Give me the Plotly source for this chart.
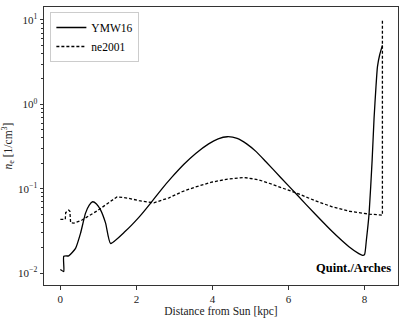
import plotly.graph_objects as go

# YMW16 (solid)
ymw_x = [0.0, 0.09, 0.09, 0.22, 0.4, 0.53, 0.66, 0.76, 0.85, 0.95, 1.06, 1.19, 1.32,
         1.7, 2.07, 2.37, 2.65, 2.94, 3.25, 3.56, 3.9, 4.15, 4.39, 4.65, 4.9, 5.15,
         5.4, 5.8, 6.23, 6.7, 7.15, 7.59, 7.85, 7.95, 8.0, 8.05, 8.12, 8.2, 8.25,
         8.3, 8.34, 8.4, 8.47]
ymw_y = [0.011, 0.0104, 0.0158, 0.016, 0.0196, 0.0295, 0.051, 0.064, 0.070, 0.066,
         0.0557, 0.039, 0.0224, 0.031, 0.046, 0.067, 0.097, 0.138, 0.195, 0.262,
         0.34, 0.39, 0.413, 0.395, 0.34, 0.275, 0.21, 0.135, 0.084, 0.05, 0.031,
         0.0205, 0.017, 0.0162, 0.0165, 0.025, 0.051, 0.218, 0.68, 1.6, 2.8, 3.9, 5.0]

# NE2001 (dashed)
ne_x = [0.0, 0.13, 0.14, 0.22, 0.25, 0.27, 0.355, 0.57, 0.97, 1.3, 1.49, 1.8,
        2.07, 2.46, 2.86, 3.2, 3.56, 4.0, 4.4, 4.83, 5.2, 5.49, 5.9, 6.23, 6.7,
        7.15, 7.6, 8.12, 8.47, 8.47]
ne_y = [0.0433, 0.0433, 0.052, 0.0557, 0.054, 0.0394, 0.039, 0.0425, 0.0547, 0.070,
        0.080, 0.077, 0.072, 0.068, 0.078, 0.092, 0.105, 0.120, 0.130, 0.136, 0.128,
        0.116, 0.100, 0.088, 0.072, 0.061, 0.054, 0.050, 0.0486, 10.0]

x_ticks = [0, 2, 4, 6, 8]
y_ticks = [0.01, 0.1, 1, 10]
y_ticktext = ["10<sup>\u22122</sup>", "10<sup>\u22121</sup>", "10<sup>0</sup>", "10<sup>1</sup>"]
y_minor = [m * d for d in [0.01, 0.1, 1] for m in range(2, 10)]

FONT = "Liberation Serif"

fig = go.Figure()
fig.add_trace(go.Scatter(x=ymw_x, y=ymw_y, mode="lines", name="YMW16",
                         line=dict(color="black", width=1.3, shape="spline",
                                   smoothing=0.5)))
fig.add_trace(go.Scatter(x=ne_x, y=ne_y, mode="lines", name="ne2001",
                         line=dict(color="black", width=1.3, dash="3px,2px")))

fig.add_annotation(text="<b>Quint./Arches</b>", xref="paper", yref="paper",
                   x=0.985, y=0.03, xanchor="right", yanchor="bottom",
                   showarrow=False, font=dict(family=FONT, size=12.5, color="black"))

fig.update_layout(
    width=407, height=318,
    margin=dict(l=44, r=9, t=7, b=33, autoexpand=False),
    plot_bgcolor="white", paper_bgcolor="white",
    font=dict(family=FONT, size=11, color="#222"),
    showlegend=True,
    legend=dict(x=0.018, y=0.982, xanchor="left", yanchor="top",
                bgcolor="white", bordercolor="#cccccc", borderwidth=1,
                font=dict(family=FONT, size=11.5, color="black"),
                tracegroupgap=0, itemwidth=30),
)
fig.update_xaxes(
    range=[-0.43, 8.88], tickvals=x_ticks, ticks="outside", ticklen=3.5,
    tickcolor="#333", showgrid=False, zeroline=False, showline=True,
    linecolor="#333", linewidth=1, mirror=True, automargin=False,
    title=dict(text="Distance from Sun [kpc]", standoff=2,
               font=dict(family=FONT, size=11.5)),
)
fig.update_yaxes(
    type="log", range=[-2.142, 1.154], tickvals=y_ticks, ticktext=y_ticktext,
    ticks="outside", ticklen=3.5, tickcolor="#333",
    minor=dict(tickmode="array", tickvals=y_minor, ticks="outside", ticklen=2,
               tickcolor="#333", showgrid=False),
    showgrid=False, zeroline=False, showline=True, linecolor="#333",
    linewidth=1, mirror=True, automargin=False,
    title=dict(text="<i>n</i><sub>e</sub> [1/cm<sup>3</sup>]", standoff=10,
               font=dict(family=FONT, size=11.5)),
)

fig.write_html("out.html", config={"displayModeBar": False},
               post_script="document.body.style.margin='0';")
